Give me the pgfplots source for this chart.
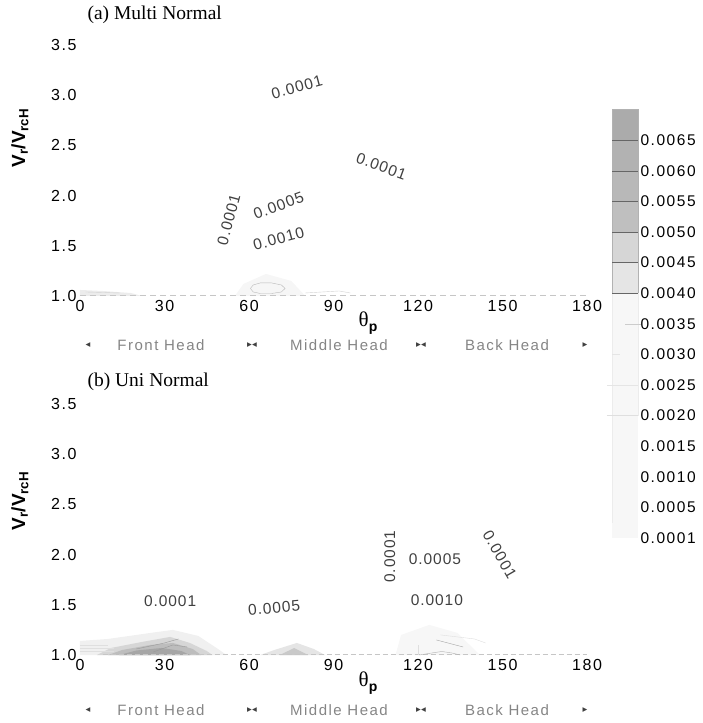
\documentclass[border=0pt]{standalone}
\usepackage{pgfplots}
\pgfplotsset{compat=1.18}
\usepackage{fontspec}
\setmainfont{Liberation Sans}
\newfontfamily\tickfont[LetterSpace=10]{Liberation Sans}
\newfontfamily\labfont[LetterSpace=6]{Liberation Sans}
\newfontfamily\headfont[LetterSpace=10]{Liberation Sans}
\newfontfamily\serif{Liberation Serif}
\newfontfamily\symb{DejaVu Sans}
\definecolor{clab}{HTML}{404040}
\definecolor{hgray}{HTML}{858585}
\newcommand{\tfs}{\tickfont\fontsize{16}{19}\selectfont}
\newcommand{\bfs}{\tickfont\fontsize{15.5}{18}\selectfont}
\newcommand{\cfs}{\labfont\fontsize{15.5}{18}\selectfont\color{clab}}
\pgfplotsset{
  panel/.style={scale only axis, width=507pt, height=251pt,
    xmin=0, xmax=180, ymin=1, ymax=3.5, anchor=south west,
    axis line style={draw=none}, major tick length=0pt,
    xtick={0,30,60,90,120,150,180}, xticklabels={0,30,60,90,120,150,180},
    ytick={1,1.5,2,2.5,3,3.5}, yticklabels={1.0,1.5,2.0,2.5,3.0,3.5},
    ticklabel style={font=\tfs}, xticklabel style={yshift=-1pt},
    clip=false}
}
\begin{document}
\begin{tikzpicture}[x=1pt,y=1pt]
\useasboundingbox (0,0) rectangle (703,723);
% ---------------- (a) Multi Normal ----------------
\begin{axis}[panel, at={(80pt,427pt)}]
 \addplot[fill=gray!7, draw=none] coordinates {(55,1.0)(58,1.12)(66,1.22)(75,1.15)(80,1.0)} --cycle;
 \addplot[fill=gray!15, draw=none] coordinates {(0,1.0)(0,1.06)(8,1.05)(18,1.03)(22,1.0)} --cycle;
 \addplot[gray!55, thin] coordinates {(60.5,1.075)(61.5,1.11)(64,1.13)(68,1.13)(71.5,1.11)(72.8,1.075)(71.5,1.04)(68,1.025)(64,1.025)(61.5,1.04)(60.5,1.075)};
 \addplot[gray!45, thin, dash pattern=on 6pt off 4pt] coordinates {(0,1.012)(180,1.012)};
 \addplot[gray!35, thin] coordinates {(2,1.04)(14,1.03)};
 \addplot[gray!35, thin] coordinates {(80,1.03)(92,1.05)(96,1.03)};
 \node[font=\cfs, rotate=75] at (axis cs:52.8,1.76) {0.0001};
 \node[font=\cfs, rotate=15] at (axis cs:77,3.08) {0.0001};
 \node[font=\cfs, rotate=-20] at (axis cs:107,2.29) {0.0001};
 \node[font=\cfs, rotate=20] at (axis cs:70.5,1.90) {0.0005};
 \node[font=\cfs, rotate=15] at (axis cs:70.5,1.57) {0.0010};
\end{axis}
% ---------------- (b) Uni Normal ----------------
\begin{axis}[panel, at={(80pt,68pt)}]
 \addplot[fill=gray!6, draw=none] coordinates {(112,1.0)(114,1.2)(124,1.3)(134,1.22)(142,1.0)} --cycle;
 \addplot[fill=gray!12, draw=none] coordinates {(0,1.0)(0,1.14)(10,1.16)(25,1.22)(33,1.25)(42,1.19)(49,1.06)(52,1.0)} --cycle;
 \addplot[fill=gray!32, draw=none] coordinates {(6,1.0)(11,1.07)(22,1.13)(32,1.18)(39,1.12)(45,1.04)(47,1.0)} --cycle;
 \addplot[fill=gray!52, draw=none] coordinates {(10,1.0)(15,1.05)(25,1.1)(33,1.12)(40,1.06)(43,1.0)} --cycle;
 \addplot[fill=gray!70, draw=none] coordinates {(14,1.0)(20,1.045)(29,1.07)(36,1.04)(39,1.0)} --cycle;
 \addplot[fill=gray!20, draw=none] coordinates {(64,1.0)(69,1.05)(77,1.12)(83,1.06)(87,1.0)} --cycle;
 \addplot[fill=gray!42, draw=none] coordinates {(71,1.0)(76,1.07)(81,1.0)} --cycle;
 \addplot[gray!25, thin] coordinates {(0,1.04)(12,1.04)};
 \addplot[gray!25, thin] coordinates {(0,1.07)(12,1.07)};
 \addplot[gray!25, thin] coordinates {(0,1.10)(10,1.10)};
 \addplot[gray!80, thin] coordinates {(20,1.06)(30,1.12)(35,1.16)};
 \addplot[gray!80, thin] coordinates {(26,1.03)(33,1.1)(38,1.08)};
 \addplot[gray!45, thin, dash pattern=on 5pt off 3pt] coordinates {(8,1.01)(180,1.01)};
 \addplot[gray!70, thin] coordinates {(126.5,1.15)(136,1.08)};
 \addplot[gray!60, thin] coordinates {(120.5,1.0)(126,1.025)(128.5,1.035)(132,1.02)(135,1.0)};
 \addplot[gray!25, thin] coordinates {(120,1.0)(120,1.1)};
 \addplot[gray!25, thin] coordinates {(128,1.2)(140,1.16)(144,1.12)};
 \node[font=\cfs] at (axis cs:32,1.54) {0.0001};
 \node[font=\cfs, rotate=5] at (axis cs:68.9,1.47) {0.0005};
 \node[font=\cfs, rotate=90] at (axis cs:110,1.98) {0.0001};
 \node[font=\cfs] at (axis cs:126,1.95) {0.0005};
 \node[font=\cfs, rotate=-60] at (axis cs:149,2.0) {0.0001};
 \node[font=\cfs] at (axis cs:126.7,1.55) {0.0010};
\end{axis}
% ---------------- legend bar ----------------
\begin{axis}[scale only axis, width=26pt, height=428.4pt, at={(612pt,185pt)}, anchor=south west,
  xmin=0, xmax=1, ymin=0, ymax=14, axis line style={draw=none}, major tick length=0pt,
  xtick=\empty, ytick={0,1,...,13},
  yticklabels={0.0001,0.0005,0.0010,0.0015,0.0020,0.0025,0.0030,0.0035,0.0040,0.0045,0.0050,0.0055,0.0060,0.0065},
  yticklabel pos=right, ticklabel style={font=\bfs}, yticklabel style={xshift=-1pt}, clip=false]
 \addplot[fill=white!97!black, draw=none] coordinates {(0,0)(1,0)(1,8)(0,8)} --cycle;
 \addplot[fill=white!90!black, draw=none] coordinates {(0,8)(1,8)(1,9)(0,9)} --cycle;
 \addplot[fill=white!84!black, draw=none] coordinates {(0,9)(1,9)(1,10)(0,10)} --cycle;
 \addplot[fill=white!75!black, draw=none] coordinates {(0,10)(1,10)(1,11)(0,11)} --cycle;
 \addplot[fill=white!72!black, draw=none] coordinates {(0,11)(1,11)(1,12)(0,12)} --cycle;
 \addplot[fill=white!70!black, draw=none] coordinates {(0,12)(1,12)(1,13)(0,13)} --cycle;
 \addplot[fill=white!67!black, draw=none] coordinates {(0,13)(1,13)(1,14)(0,14)} --cycle;
 \addplot[gray!60, thin] coordinates {(0,8)(0,14)(1,14)(1,8)};
 \addplot[gray!15, thin] coordinates {(0,0.5)(0,8)};
 \addplot[gray!15, thin] coordinates {(1,4)(1,8)};
 \addplot[black!60, thin] coordinates {(0,8)(1,8)};
 \addplot[black!60, thin] coordinates {(0,9)(1,9)};
 \addplot[black!60, thin] coordinates {(0,10)(1,10)};
 \addplot[black!60, thin] coordinates {(0,11)(1,11)};
 \addplot[black!60, thin] coordinates {(0,12)(1,12)};
 \addplot[black!60, thin] coordinates {(0,13)(1,13)};
 \addplot[gray!40, thin] coordinates {(0.5,7)(1.1,7)};
 \addplot[gray!20, thin] coordinates {(0,6)(0.3,6)};
 \addplot[gray!20, thin] coordinates {(-0.2,5)(1,5)};
 \addplot[gray!25, thin] coordinates {(-0.2,4)(1,4)};
\end{axis}
% ---------------- texts ----------------
\node[font=\serif\fontsize{19.5}{22}\selectfont, anchor=west] at (84,708) {(a) Multi Normal};
\node[font=\serif\fontsize{19.5}{22}\selectfont, anchor=west] at (84,341) {(b) Uni Normal};
\node[font=\bfseries\fontsize{19}{22}\selectfont, rotate=90] at (20,585) {V\textsubscript{r}/V\textsubscript{rcH}};
\node[font=\bfseries\fontsize{19}{22}\selectfont, rotate=90] at (20,222) {V\textsubscript{r}/V\textsubscript{rcH}};
\node at (368,400) {{\serif\fontsize{21}{24}\selectfont θ}\raisebox{-5pt}{\bfseries\fontsize{14}{16}\selectfont p}};
\node at (368,40) {{\serif\fontsize{21}{24}\selectfont θ}\raisebox{-5pt}{\bfseries\fontsize{14}{16}\selectfont p}};
\foreach \yy in {378,13} {
 \node[font=\symb\fontsize{9.5}{10}\selectfont, text=black!75] at (88,\yy) {◂};
 \node[font=\headfont\fontsize{15}{18}\selectfont, text=hgray] at (161,\yy) {Front Head};
 \node[font=\symb\fontsize{9.5}{10}\selectfont, text=black!75] at (252,\yy) {▸◂};
 \node[font=\headfont\fontsize{15}{18}\selectfont, text=hgray] at (339,\yy) {Middle Head};
 \node[font=\symb\fontsize{9.5}{10}\selectfont, text=black!75] at (421,\yy) {▸◂};
 \node[font=\headfont\fontsize{15}{18}\selectfont, text=hgray] at (507,\yy) {Back Head};
 \node[font=\symb\fontsize{9.5}{10}\selectfont, text=black!75] at (585,\yy) {▸};
}
\end{tikzpicture}
\end{document}
